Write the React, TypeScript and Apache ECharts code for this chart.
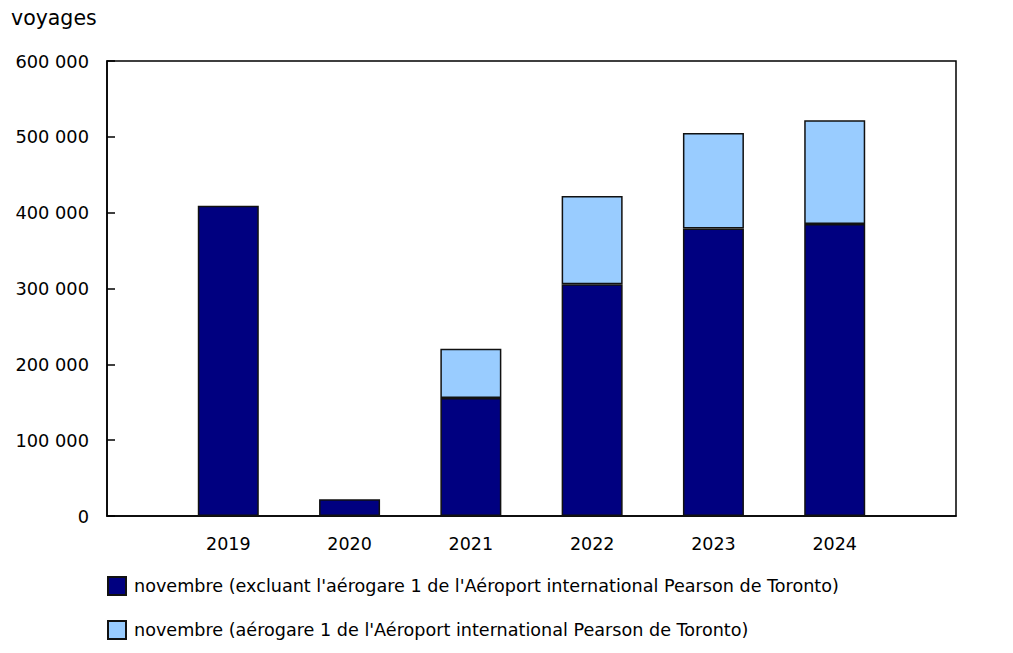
import * as echarts from "echarts";
import { useEffect, useRef } from "react";

// catégories (cases vides aux deux bouts pour reproduire la marge du graphique)
const YEARS = ["", "2019", "2020", "2021", "2022", "2023", "2024", ""];
const EXCLUDING_T1 = [null, 409000, 22000, 155500, 305500, 379000, 385000, null];
const T1_ONLY = [null, null, null, 65000, 116500, 126000, 137000, null];

const NAME_EXCL = "novembre (excluant l'aérogare 1 de l'Aéroport international Pearson de Toronto)";
const NAME_T1 = "novembre (aérogare 1 de l'Aéroport international Pearson de Toronto)";

const FONT = "'DejaVu Sans', Verdana, sans-serif";

function fmtThousands(v: number): string {
  return String(v).replace(/\B(?=(\d{3})+(?!\d))/g, " ");
}

const legendBase = {
  orient: "vertical",
  left: 107,
  padding: 0,
  itemWidth: 18,
  itemHeight: 18,
  icon: "rect",
  selectedMode: false,
  textStyle: { fontFamily: FONT, fontSize: 17.6, color: "#000", padding: [0, 0, 0, 3] },
};

export default function App() {
  const ref = useRef<HTMLDivElement | null>(null);

  useEffect(() => {
    const el = ref.current;
    if (!el) return undefined;
    const chart = echarts.init(el, undefined, { renderer: "svg" });
    chart.setOption({
      animation: false,
      textStyle: { fontFamily: FONT, color: "#000" },
      title: {
        text: "voyages",
        left: 11,
        top: 7,
        padding: 0,
        textStyle: { fontFamily: FONT, fontSize: 20.5, fontWeight: "normal", color: "#000" },
      },
      grid: {
        left: 107,
        right: 57,
        top: 61,
        bottom: 137,
        show: true,
        borderColor: "#000",
        borderWidth: 1.5,
        backgroundColor: "transparent",
      },
      legend: [
        { ...legendBase, top: 576, data: [NAME_EXCL] },
        { ...legendBase, top: 620, data: [NAME_T1] },
      ],
      xAxis: {
        type: "category",
        data: YEARS,
        boundaryGap: false,
        axisLine: { lineStyle: { color: "#000", width: 1.5 } },
        axisTick: { show: false },
        axisLabel: { color: "#000", fontSize: 17.5, margin: 19, fontFamily: FONT },
        splitLine: { show: false },
      },
      yAxis: {
        type: "value",
        min: 0,
        max: 600000,
        interval: 100000,
        axisLine: { show: true, lineStyle: { color: "#000", width: 1.5 } },
        axisTick: { show: true, inside: true, length: 8, lineStyle: { color: "#000", width: 1.5 } },
        axisLabel: {
          color: "#000",
          fontSize: 17.8,
          margin: 18,
          fontFamily: FONT,
          formatter: (v: number) => fmtThousands(v),
        },
        splitLine: { show: false },
      },
      series: [
        {
          name: NAME_EXCL,
          type: "bar",
          stack: "total",
          barWidth: 61,
          data: EXCLUDING_T1,
          itemStyle: { color: "#000080", borderColor: "#111", borderWidth: 1.5 },
        },
        {
          name: NAME_T1,
          type: "bar",
          stack: "total",
          barWidth: 61,
          data: T1_ONLY,
          itemStyle: { color: "#99ccff", borderColor: "#111", borderWidth: 1.5 },
        },
      ],
    });
    return () => chart.dispose();
  }, []);

  return (
    <div
      ref={ref}
      style={{ position: "fixed", left: 0, top: 0, width: 1013, height: 653, background: "#fff" }}
    />
  );
}
